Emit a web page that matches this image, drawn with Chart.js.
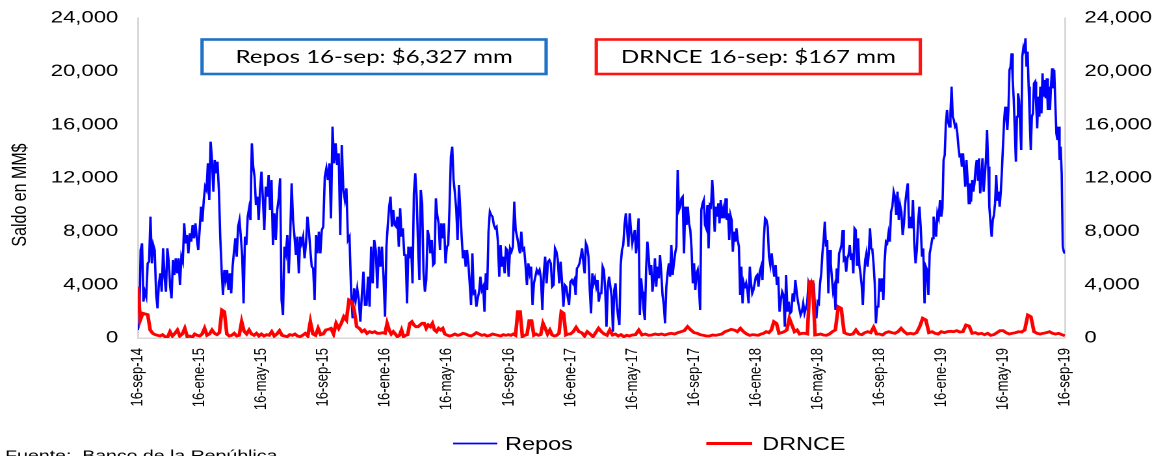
<!DOCTYPE html>
<html>
<head>
<meta charset="utf-8">
<script src="https://cdn.jsdelivr.net/npm/chart.js@4.4.0/dist/chart.umd.min.js"></script>
<style>
  html, body { margin: 0; padding: 0; background: #fff; overflow: hidden; }
  #wrap { width: 896px; height: 456px; transform: scaleX(1.30022); transform-origin: 0 0; }
  #c { width: 896px; height: 456px; display: block; }
</style>
</head>
<body>
<div id="wrap"><canvas id="c" width="896" height="456"></canvas></div>
<script>
// ---- tick labels (every 4 months) ----
const tickLabels = ['16-sep-14','16-ene-15','16-may-15','16-sep-15','16-ene-16','16-may-16','16-sep-16','16-ene-17',
                    '16-may-17','16-sep-17','16-ene-18','16-may-18','16-sep-18','16-ene-19','16-may-19','16-sep-19'];

// ---- Repos balance (MM$), one list per 4-month period ----
const repos = [
  [600,1100,6600,7100,2725,3475,3100,5600,5725,9100,5600,6975,6600,3350,2225,4100,4850,3475,6725,4600,3475,6725,5725,3850,2975,5850,4725,5975,4850,5975,3975,6100,5725,8600,7100,7725,6350,7850,7225,8475,7475,8600,7475,6600],
  [8100,9850,8725,10350,11350,11100,13100,10350,14725,13350,10975,13350,12350,13225,11100,7600,5100,3225,5100,4350,5100,3600,4850,3350,5350,6475,7475,6100,8350,8850,7600,6100,2600,7600,6975,9100,9725,8850,14600,12850,12100,9975,10600,8850,11100],
  [12475,10475,8100,11350,10600,12225,9600,11850,6975,9350,7350,9600,10475,11975,2850,1725,6850,6350,7725,4850,7600,11600,8850,7600,6225,7600,4850,7600,7100,7600,5975,7100,9100,8100,6600,5350,5225,2850,7725,6350,7975,6350,8100],
  [8350,12100,12725,11850,13100,8975,15850,13100,14600,12975,13850,7725,14475,11100,10350,11225,7350,7600,3600,1475,3725,2850,3725,2850,1225,3225,4975,2475,2475,4600,2350,6850,4100,7350,6600,3725,6850,5350,6850,4600],
  [1600,6850,8475,9850,10600,8350,9600,8475,8350,9100,6850,9725,7600,8225,6225,6225,2600,6850,5975,6850,4100,10850,12350,10600,7100,4350,11100,10100,4975,3475,4350,8100,7600,6350,7350,5475,5600,10475,9225,8600,6600,8600,7475,8600,5600],
  [6850,6975,9850,13600,14350,11850,10850,9600,7350,11475,9600,7600,5975,6600,5350,6600,5600,4100,2475,6350,3350,3475,2350,2975,3475,4600,3600,3850,1975,4850,3600,7975,9475,9225,9100,8475,8225,8350,7225,4600,6975,5350,6100,4850,6725,6600],
  [4600,6725,6475,6850,10225,8100,7600,6975,6350,7975,6600,6725,5475,3975,5600,4850,5350,2475,4100,4600,5100,4850,5100,4475,2100,4850,6100,4100,5725,5850,5600,3850,3975,6725,6475,5850,4100,5725,4225,2350,3975,3850,3100,2475],
  [4225,4350,4100,4350,3225,5225,5350,5600,6100,6725,5725,4850,7100,6850,6100,3600,1850,4850,4100,4475,3850,4350,2725,3350,3350,5350,5100,3600,850,3850,4600,3850,3100,475,3600,4100,2475,1600,975,5475,6600,6975,8475,9350,8100,6850,9350,8100],
  [7100,7600,8100,6350,7350,8975,1725,4475,3475,2100,1350,5225,7225,6100,4725,5475,3475,4350,5975,3850,5350,4475,6225,4850,3225,2475,1100,3850,4850,5600,4600,6975,4725,5600,6350,6850,12600,9600,9850,10475,10600,6350,9850,8475,9850,8600,8100,6725,4100],
  [5600,3600,4850,5100,3850,2100,9600,10100,10350,8475,8225,9975,6725,9975,9850,11850,10350,7975,9850,9100,10100,8600,10350,8975,9600,8975,10475,8850,9350,7350,9225,8850,6475,7975,7225,8225,7350,6850,3225,5350,2600,4100,3725,4100,3600,2600,5350,4100,3350,3600,4100],
  [4600,4725,3850,4975,5350,4350,7350,8975,8850,8350,6100,5475,6350,5350,4600,5475,3975,4600,1975,2850,3475,3225,850,4725,1975,2725,1850,1975,3350,2725,4350,3475,2725,2225,1725,1975,2600,1850,2225,2600,4100,3725,4100,3350,4100,2100,1475],
  [2725,2600,4100,4850,6350,7350,8725,6850,7350,3350,6600,5600,4475,3475,3850,2100,5225,4100,6350,6600,6975,8100,5850,5975,4975,5975,6225,6975,5850,6350,4850,8225,8100,5475,7475,5475,4850,3975,2475,4600,5850,6350,5350,6350,8225,6725,6600,5600,4100,1100,2350,2350],
  [4475,3475,4475,2850,5725,7225,7100,7850,7225,9475,9850,10975,10600,9225,10975,8850,9975,9475,7725,8600,10100,10975,11600,8225,9100,8225,10350,7225,5600,6600,8725,9850,8350,6100,6725,2600,5350,5100,3225,6350,6850,7475,9100,8475,7600,9350,8975,10350],
  [9100,9725,13350,13725,16100,17100,16225,15850,16850,18850,16600,16350,15850,15975,15350,14350,13600,13850,12850,13850,12475,11350,13350,11850,10100,11600,10225,11850,10975,11600,12725,13350,11850,13475,10850,11850,13475,10975,12100,13350,15600,12850,9850,8600,7600,8850,9225,10100,12225,10350,10975,9850,10975,12600],
  [14600,16350,17350,16600,15600,17100,20100,20350,21350,19475,17850,15600,13225,16600,18350,17850,16100,14100,21100,21725,21350,22475,20350,21475,18850,16350,14100,16600,16850,19100,19225,17600,15725,18100,16600,18850,16850,19850,18100,19350,17975,19475,17100,18850,17100,18975,20225,18725,20100,17600,15350,14850,15850,13350,14350,12350,6850,6475,6327]
];

// ---- DRNCE balance (MM$), one list per 4-month period ----
const drnce = [
  [3850,1350,1850,1800,1750,600,350,250,200,150,250,100,50,475,150,350,600,150,300,725,100,150,50,300,200],
  [150,300,725,200,300,600,350,250,400,2100,1975,300,150,200,350,150,200,1225,500,300,600,300,200,350,150],
  [300,150,250,200,475,150,300,550,200,150,100,250,200,300,150,100,200,350,150,1225,300,200,725,250],
  [300,600,650,725,300,1100,725,1100,1600,1350,2850,2725,2100,850,725,475,600,350,475,400,475,350,350,400],
  [350,1100,600,300,475,300,100,200,600,100,200,250,1100,1225,975,850,850,975,1100,1100,725,975,850,1100,600,475,725,600,725,300],
  [225,150,200,300,200,250,350,300,200,150,250,400,300,200,250,150,200,300,250,200,150,250,200],
  [250,200,300,200,1975,1975,100,200,250,1300,1300,200,300,200,250,1100,725,300,600,225,150,200,350,1975,1850,225,300],
  [300,475,800,475,400,150,475,300,100,400,725,475,300,200,600,225,300,150,250,100,200,150],
  [225,250,600,225,300,200,225,300,250,300,225,300,350,300,400,475,550,850,600],
  [400,350,250,200,150,150,225,200,250,300,475,550,650,600,475,725,475,300,200,250],
  [225,200,300,350,475,400,600,1225,1100,350,400,475,600,1475,975,475,600,300,350,350,300,4225,4225,225],
  [250,300,225,200,300,475,600,2350,2225,400,300,250,300,600,300,250,400,475,400,800,300],
  [300,225,400,475,400,350,475,725,475,300,350,300,400,850,1475,1350,400,475,350,300],
  [475,400,475,500,475,550,450,475,975,900,350,400,300,350,250,350,200,250,400,550],
  [550,400,300,350,400,475,450,600,1725,1600,475,350,300,350,400,475,350,300,350,250,167]
];

const seriesNames = ['Repos', 'DRNCE'];
const seriesColors = ['#0000ff', '#ff0000'];
const boxTexts = ['Repos 16-sep: $6,327 mm', 'DRNCE 16-sep: $167 mm'];
const boxColors = ['#1f72c4', '#ff1414'];
const yTitle = 'Saldo en MM$';
const sourceText = 'Fuente:  Banco de la República';
const MONTHS_PER_PERIOD = 4;

// spread each period's readings across its 4-month span (x in months since 16-sep-14)
function toPoints(periods) {
  const out = [];
  periods.forEach((seg, k) => {
    const last = k === periods.length - 1;
    seg.forEach((v, i) => {
      const frac = last ? i / (seg.length - 1) : i / seg.length;
      out.push({ x: (k + frac) * MONTHS_PER_PERIOD, y: v });
    });
  });
  return out;
}

const FONT = "'Liberation Sans', Arial, sans-serif";

const extras = {
  id: 'extras',
  afterDraw(chart) {
    const ctx = chart.ctx;
    ctx.save();
    // annotation boxes
    const boxes = [
      { x: 155.4, y: 39.5, w: 264.6, h: 34.5 },
      { x: 458.6, y: 39.5, w: 249.2, h: 34.5 }
    ];
    boxes.forEach((b, i) => {
      ctx.lineWidth = 2.6;
      ctx.strokeStyle = boxColors[i];
      ctx.strokeRect(b.x, b.y, b.w, b.h);
      ctx.fillStyle = '#000';
      ctx.font = "18.5px Lato, 'Open Sans', sans-serif";
      ctx.textAlign = 'center';
      ctx.textBaseline = 'middle';
      ctx.fillText(boxTexts[i], b.x + b.w / 2, b.y + b.h / 2 + 0.5);
    });
    // y title
    ctx.save();
    ctx.translate(15.4, 195);
    ctx.rotate(-Math.PI / 2);
    ctx.font = '16px ' + FONT;
    ctx.textAlign = 'center';
    ctx.textBaseline = 'middle';
    ctx.fillStyle = '#000';
    ctx.fillText(yTitle, 0, 0);
    ctx.restore();
    // legend
    const leg = [
      { x1: 348.5, x2: 382.5, tx: 388.5, w: 1.8 },
      { x1: 543.2, x2: 578.5, tx: 586.2, w: 3 }
    ];
    chart.data.datasets.forEach((ds, i) => {
      const L = leg[i];
      ctx.beginPath();
      ctx.strokeStyle = ds.borderColor;
      ctx.lineWidth = L.w;
      ctx.moveTo(L.x1, 443.5);
      ctx.lineTo(L.x2, 443.5);
      ctx.stroke();
      ctx.fillStyle = '#000';
      ctx.font = '18px ' + FONT;
      ctx.textAlign = 'left';
      ctx.textBaseline = 'middle';
      ctx.fillText(ds.label, L.tx, 445);
    });
    // source
    ctx.font = '15px ' + FONT;
    ctx.textAlign = 'left';
    ctx.textBaseline = 'top';
    ctx.fillStyle = '#000';
    ctx.fillText(sourceText, 4, 449);
    ctx.restore();
  }
};

const yTicks = {
  stepSize: 4000,
  color: '#000',
  padding: 15,
  font: { size: 17, family: FONT },
  callback: v => v.toLocaleString('en-US')
};

new Chart(document.getElementById('c'), {
  type: 'line',
  data: {
    datasets: [
      { label: seriesNames[0], data: toPoints(repos), borderColor: seriesColors[0], backgroundColor: seriesColors[0],
        borderWidth: 1.8, pointRadius: 0, tension: 0, yAxisID: 'y', order: 2 },
      { label: seriesNames[1], data: toPoints(drnce), borderColor: seriesColors[1], backgroundColor: seriesColors[1],
        borderWidth: 2.8, pointRadius: 0, tension: 0, yAxisID: 'y2', order: 1 }
    ]
  },
  options: {
    responsive: false,
    devicePixelRatio: 2,
    animation: false,
    layout: { padding: { top: 18, left: 0, right: 0, bottom: 0 } },
    plugins: { legend: { display: false }, tooltip: { enabled: false } },
    scales: {
      x: {
        type: 'linear', min: 0, max: 60,
        afterBuildTicks: s => { s.ticks = tickLabels.map((_, i) => ({ value: i * MONTHS_PER_PERIOD })); },
        ticks: {
          autoSkip: false, minRotation: 90, maxRotation: 90, padding: 10, color: '#000',
          font: { size: 13, family: FONT },
          callback: v => tickLabels[Math.round(v / MONTHS_PER_PERIOD)] ?? ''
        },
        grid: { display: false, drawTicks: false },
        border: { display: true, color: '#d9d9d9', width: 1.5 },
        afterFit: s => { s.height = 118; s.paddingLeft = 0; s.paddingRight = 0; }
      },
      y: {
        position: 'left', min: 0, max: 24000,
        ticks: yTicks,
        grid: { display: false, drawTicks: false },
        border: { display: true, color: '#d9d9d9', width: 1.5 },
        afterFit: s => { s.width = 106; s.paddingTop = 0; s.paddingBottom = 0; }
      },
      y2: {
        position: 'right', min: 0, max: 24000,
        ticks: yTicks,
        grid: { display: false, drawTicks: false },
        border: { display: true, color: '#d9d9d9', width: 1.5 },
        afterFit: s => { s.width = 77; s.paddingTop = 0; s.paddingBottom = 0; }
      }
    }
  },
  plugins: [extras]
});
</script>
</body>
</html>
